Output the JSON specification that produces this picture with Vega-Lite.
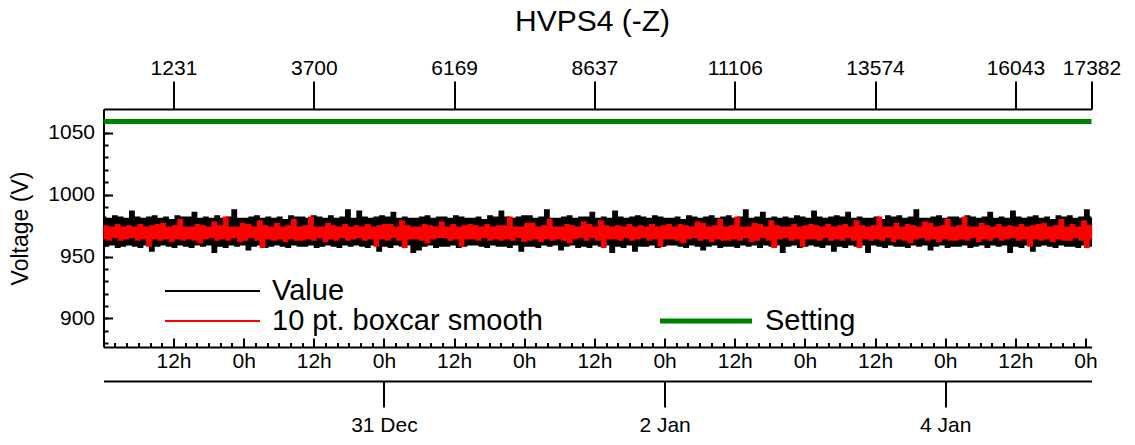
{
  "$schema": "https://vega.github.io/schema/vega-lite/v6.json",
  "width": 988,
  "height": 238,
  "autosize": {"type": "none"},
  "padding": {"left": 103.5, "top": 109, "right": 43.5, "bottom": 98},
  "config": {
    "font": "Liberation Sans",
    "view": {"stroke": null},
    "axis": {"grid": false, "domainColor": "#000000", "domainWidth": 2, "tickColor": "#000000", "tickWidth": 2, "labelColor": "#000000", "labelFontSize": 21, "labelFontWeight": "normal", "titleColor": "#000000", "titleFontSize": 23, "titleFontWeight": "normal", "labelFlush": false, "labelOverlap": false, "zindex": 1},
    "legend": {"labelColor": "#000000", "labelFontSize": 29, "labelLimit": 500, "padding": 0, "rowPadding": 0, "clipHeight": 30, "symbolType": "stroke"},
    "title": {"fontWeight": "normal", "color": "#000000"}
  },
  "title": {"text": "HVPS4 (-Z)", "fontSize": 30, "anchor": "middle", "frame": "group", "offset": 20, "dx": -5},
  "datasets": {
    "hk": [
{"i":0,"v":981,"s":965},{"i":50,"v":959,"s":974},{"i":100,"v":980,"s":964},{"i":150,"v":960,"s":973},{"i":200,"v":982,"s":966},{"i":250,"v":958,"s":975},{"i":300,"v":981,"s":964},{"i":350,"v":959,"s":973},{"i":400,"v":980,"s":965},{"i":450,"v":960,"s":974},
{"i":500,"v":986,"s":966},{"i":550,"v":959,"s":973},{"i":600,"v":981,"s":964},{"i":650,"v":958,"s":975},{"i":700,"v":980,"s":965},{"i":750,"v":960,"s":973},{"i":800,"v":981,"s":959},{"i":850,"v":955,"s":974},{"i":900,"v":982,"s":965},{"i":950,"v":959,"s":975},
{"i":1000,"v":980,"s":964},{"i":1050,"v":960,"s":976},{"i":1100,"v":981,"s":965},{"i":1150,"v":959,"s":973},{"i":1200,"v":979,"s":963},{"i":1250,"v":958,"s":974},{"i":1300,"v":982,"s":965},{"i":1350,"v":960,"s":979},{"i":1400,"v":981,"s":964},{"i":1450,"v":959,"s":973},
{"i":1500,"v":981,"s":965},{"i":1550,"v":958,"s":973},{"i":1600,"v":985,"s":964},{"i":1650,"v":960,"s":975},{"i":1700,"v":980,"s":962},{"i":1750,"v":959,"s":974},{"i":1800,"v":981,"s":965},{"i":1850,"v":960,"s":973},{"i":1900,"v":980,"s":966},{"i":1950,"v":954,"s":977},
{"i":2000,"v":982,"s":964},{"i":2050,"v":959,"s":974},{"i":2100,"v":980,"s":965},{"i":2150,"v":958,"s":981},{"i":2200,"v":981,"s":964},{"i":2250,"v":960,"s":973},{"i":2300,"v":987,"s":966},{"i":2350,"v":959,"s":973},{"i":2400,"v":980,"s":963},{"i":2450,"v":960,"s":976},
{"i":2500,"v":980,"s":964},{"i":2550,"v":956,"s":975},{"i":2600,"v":981,"s":966},{"i":2650,"v":959,"s":973},{"i":2700,"v":982,"s":964},{"i":2750,"v":960,"s":978},{"i":2800,"v":980,"s":958},{"i":2850,"v":958,"s":974},{"i":2900,"v":981,"s":965},{"i":2950,"v":959,"s":973},
{"i":3000,"v":980,"s":964},{"i":3050,"v":960,"s":976},{"i":3100,"v":981,"s":965},{"i":3150,"v":959,"s":973},{"i":3200,"v":979,"s":963},{"i":3250,"v":958,"s":974},{"i":3300,"v":982,"s":965},{"i":3350,"v":960,"s":979},{"i":3400,"v":981,"s":964},{"i":3450,"v":959,"s":973},
{"i":3500,"v":981,"s":964},{"i":3550,"v":959,"s":974},{"i":3600,"v":980,"s":965},{"i":3650,"v":960,"s":981},{"i":3700,"v":982,"s":964},{"i":3750,"v":958,"s":973},{"i":3800,"v":981,"s":966},{"i":3850,"v":959,"s":973},{"i":3900,"v":980,"s":963},{"i":3950,"v":960,"s":976},
{"i":4000,"v":982,"s":965},{"i":4050,"v":959,"s":974},{"i":4100,"v":980,"s":964},{"i":4150,"v":958,"s":973},{"i":4200,"v":981,"s":966},{"i":4250,"v":960,"s":975},{"i":4300,"v":987,"s":964},{"i":4350,"v":959,"s":973},{"i":4400,"v":980,"s":965},{"i":4450,"v":960,"s":974},
{"i":4500,"v":986,"s":966},{"i":4550,"v":959,"s":973},{"i":4600,"v":981,"s":964},{"i":4650,"v":958,"s":975},{"i":4700,"v":980,"s":965},{"i":4750,"v":960,"s":973},{"i":4800,"v":981,"s":959},{"i":4850,"v":955,"s":974},{"i":4900,"v":982,"s":965},{"i":4950,"v":959,"s":975},
{"i":5000,"v":981,"s":964},{"i":5050,"v":958,"s":975},{"i":5100,"v":985,"s":966},{"i":5150,"v":960,"s":973},{"i":5200,"v":980,"s":964},{"i":5250,"v":959,"s":978},{"i":5300,"v":981,"s":958},{"i":5350,"v":960,"s":974},{"i":5400,"v":980,"s":965},{"i":5450,"v":954,"s":973},
{"i":5500,"v":980,"s":965},{"i":5550,"v":956,"s":973},{"i":5600,"v":981,"s":964},{"i":5650,"v":959,"s":975},{"i":5700,"v":982,"s":962},{"i":5750,"v":960,"s":974},{"i":5800,"v":980,"s":965},{"i":5850,"v":958,"s":973},{"i":5900,"v":981,"s":966},{"i":5950,"v":959,"s":977},
{"i":6000,"v":981,"s":966},{"i":6050,"v":959,"s":973},{"i":6100,"v":980,"s":964},{"i":6150,"v":960,"s":975},{"i":6200,"v":982,"s":965},{"i":6250,"v":958,"s":973},{"i":6300,"v":981,"s":959},{"i":6350,"v":959,"s":974},{"i":6400,"v":980,"s":965},{"i":6450,"v":960,"s":975},
{"i":6500,"v":980,"s":965},{"i":6550,"v":960,"s":974},{"i":6600,"v":981,"s":964},{"i":6650,"v":959,"s":973},{"i":6700,"v":979,"s":966},{"i":6750,"v":958,"s":975},{"i":6800,"v":982,"s":964},{"i":6850,"v":960,"s":973},{"i":6900,"v":981,"s":965},{"i":6950,"v":959,"s":974},
{"i":7000,"v":986,"s":964},{"i":7050,"v":959,"s":974},{"i":7100,"v":981,"s":965},{"i":7150,"v":958,"s":981},{"i":7200,"v":980,"s":964},{"i":7250,"v":960,"s":973},{"i":7300,"v":981,"s":966},{"i":7350,"v":955,"s":973},{"i":7400,"v":982,"s":963},{"i":7450,"v":959,"s":976},
{"i":7500,"v":982,"s":964},{"i":7550,"v":959,"s":976},{"i":7600,"v":980,"s":965},{"i":7650,"v":958,"s":973},{"i":7700,"v":981,"s":963},{"i":7750,"v":960,"s":974},{"i":7800,"v":987,"s":965},{"i":7850,"v":959,"s":979},{"i":7900,"v":980,"s":964},{"i":7950,"v":960,"s":973},
{"i":8000,"v":980,"s":965},{"i":8050,"v":956,"s":973},{"i":8100,"v":981,"s":964},{"i":8150,"v":959,"s":975},{"i":8200,"v":982,"s":962},{"i":8250,"v":960,"s":974},{"i":8300,"v":980,"s":965},{"i":8350,"v":958,"s":973},{"i":8400,"v":981,"s":966},{"i":8450,"v":959,"s":977},
{"i":8500,"v":981,"s":964},{"i":8550,"v":958,"s":975},{"i":8600,"v":985,"s":966},{"i":8650,"v":960,"s":973},{"i":8700,"v":980,"s":964},{"i":8750,"v":959,"s":978},{"i":8800,"v":981,"s":958},{"i":8850,"v":960,"s":974},{"i":8900,"v":980,"s":965},{"i":8950,"v":954,"s":973},
{"i":9000,"v":986,"s":965},{"i":9050,"v":959,"s":974},{"i":9100,"v":981,"s":964},{"i":9150,"v":958,"s":973},{"i":9200,"v":980,"s":966},{"i":9250,"v":960,"s":975},{"i":9300,"v":981,"s":964},{"i":9350,"v":955,"s":973},{"i":9400,"v":982,"s":965},{"i":9450,"v":959,"s":974},
{"i":9500,"v":981,"s":966},{"i":9550,"v":959,"s":973},{"i":9600,"v":980,"s":964},{"i":9650,"v":960,"s":975},{"i":9700,"v":982,"s":965},{"i":9750,"v":958,"s":973},{"i":9800,"v":981,"s":959},{"i":9850,"v":959,"s":974},{"i":9900,"v":980,"s":965},{"i":9950,"v":960,"s":975},
{"i":10000,"v":980,"s":965},{"i":10050,"v":960,"s":973},{"i":10100,"v":981,"s":964},{"i":10150,"v":959,"s":975},{"i":10200,"v":979,"s":962},{"i":10250,"v":958,"s":974},{"i":10300,"v":982,"s":965},{"i":10350,"v":960,"s":973},{"i":10400,"v":981,"s":966},{"i":10450,"v":959,"s":977},
{"i":10500,"v":980,"s":964},{"i":10550,"v":956,"s":976},{"i":10600,"v":981,"s":965},{"i":10650,"v":959,"s":973},{"i":10700,"v":982,"s":963},{"i":10750,"v":960,"s":974},{"i":10800,"v":980,"s":965},{"i":10850,"v":958,"s":979},{"i":10900,"v":981,"s":964},{"i":10950,"v":959,"s":973},
{"i":11000,"v":982,"s":964},{"i":11050,"v":959,"s":974},{"i":11100,"v":980,"s":965},{"i":11150,"v":958,"s":981},{"i":11200,"v":981,"s":964},{"i":11250,"v":960,"s":973},{"i":11300,"v":987,"s":966},{"i":11350,"v":959,"s":973},{"i":11400,"v":980,"s":963},{"i":11450,"v":960,"s":976},
{"i":11500,"v":981,"s":964},{"i":11550,"v":958,"s":975},{"i":11600,"v":985,"s":966},{"i":11650,"v":960,"s":973},{"i":11700,"v":980,"s":964},{"i":11750,"v":959,"s":978},{"i":11800,"v":981,"s":958},{"i":11850,"v":960,"s":974},{"i":11900,"v":980,"s":965},{"i":11950,"v":954,"s":973},
{"i":12000,"v":981,"s":966},{"i":12050,"v":959,"s":973},{"i":12100,"v":980,"s":964},{"i":12150,"v":960,"s":975},{"i":12200,"v":982,"s":965},{"i":12250,"v":958,"s":973},{"i":12300,"v":981,"s":959},{"i":12350,"v":959,"s":974},{"i":12400,"v":980,"s":965},{"i":12450,"v":960,"s":975},
{"i":12500,"v":986,"s":965},{"i":12550,"v":959,"s":974},{"i":12600,"v":981,"s":964},{"i":12650,"v":958,"s":973},{"i":12700,"v":980,"s":966},{"i":12750,"v":960,"s":975},{"i":12800,"v":981,"s":964},{"i":12850,"v":955,"s":973},{"i":12900,"v":982,"s":965},{"i":12950,"v":959,"s":974},
{"i":13000,"v":981,"s":964},{"i":13050,"v":958,"s":975},{"i":13100,"v":985,"s":966},{"i":13150,"v":960,"s":973},{"i":13200,"v":980,"s":964},{"i":13250,"v":959,"s":978},{"i":13300,"v":981,"s":958},{"i":13350,"v":960,"s":974},{"i":13400,"v":980,"s":965},{"i":13450,"v":954,"s":973},
{"i":13500,"v":980,"s":964},{"i":13550,"v":960,"s":974},{"i":13600,"v":981,"s":965},{"i":13650,"v":959,"s":981},{"i":13700,"v":979,"s":964},{"i":13750,"v":958,"s":973},{"i":13800,"v":982,"s":966},{"i":13850,"v":960,"s":973},{"i":13900,"v":981,"s":963},{"i":13950,"v":959,"s":976},
{"i":14000,"v":982,"s":965},{"i":14050,"v":959,"s":973},{"i":14100,"v":980,"s":964},{"i":14150,"v":958,"s":975},{"i":14200,"v":981,"s":962},{"i":14250,"v":960,"s":974},{"i":14300,"v":987,"s":965},{"i":14350,"v":959,"s":973},{"i":14400,"v":980,"s":966},{"i":14450,"v":960,"s":977},
{"i":14500,"v":980,"s":964},{"i":14550,"v":956,"s":976},{"i":14600,"v":981,"s":965},{"i":14650,"v":959,"s":973},{"i":14700,"v":982,"s":963},{"i":14750,"v":960,"s":974},{"i":14800,"v":980,"s":965},{"i":14850,"v":958,"s":979},{"i":14900,"v":981,"s":964},{"i":14950,"v":959,"s":973},
{"i":15000,"v":981,"s":964},{"i":15050,"v":959,"s":974},{"i":15100,"v":980,"s":965},{"i":15150,"v":960,"s":981},{"i":15200,"v":982,"s":964},{"i":15250,"v":958,"s":973},{"i":15300,"v":981,"s":966},{"i":15350,"v":959,"s":973},{"i":15400,"v":980,"s":963},{"i":15450,"v":960,"s":976},
{"i":15500,"v":981,"s":965},{"i":15550,"v":958,"s":974},{"i":15600,"v":985,"s":964},{"i":15650,"v":960,"s":973},{"i":15700,"v":980,"s":966},{"i":15750,"v":959,"s":975},{"i":15800,"v":981,"s":964},{"i":15850,"v":960,"s":973},{"i":15900,"v":980,"s":965},{"i":15950,"v":954,"s":974},
{"i":16000,"v":986,"s":966},{"i":16050,"v":959,"s":973},{"i":16100,"v":981,"s":964},{"i":16150,"v":958,"s":975},{"i":16200,"v":980,"s":965},{"i":16250,"v":960,"s":973},{"i":16300,"v":981,"s":959},{"i":16350,"v":955,"s":974},{"i":16400,"v":982,"s":965},{"i":16450,"v":959,"s":975},
{"i":16500,"v":980,"s":964},{"i":16550,"v":960,"s":976},{"i":16600,"v":981,"s":965},{"i":16650,"v":959,"s":973},{"i":16700,"v":979,"s":963},{"i":16750,"v":958,"s":974},{"i":16800,"v":982,"s":965},{"i":16850,"v":960,"s":979},{"i":16900,"v":981,"s":964},{"i":16950,"v":959,"s":973},
{"i":17000,"v":982,"s":964},{"i":17050,"v":959,"s":975},{"i":17100,"v":980,"s":966},{"i":17150,"v":958,"s":973},{"i":17200,"v":981,"s":964},{"i":17250,"v":960,"s":978},{"i":17300,"v":987,"s":958},{"i":17350,"v":959,"s":974},{"i":17382,"v":981,"s":965}
    ],
    "setting": [{"series": "Setting", "v": 1059}],
    "span": [{"t": 1388275320000}, {"t": 1388883685000}]
  },
  "layer": [
    {
      "data": {"name": "hk"},
      "layer": [
        {
          "mark": {"type": "line", "interpolate": "step", "strokeWidth": 3},
          "encoding": {
            "x": {"field": "i", "type": "quantitative", "scale": {"domain": [0, 17382], "nice": false, "zero": false}, "axis": null},
            "y": {"field": "v", "type": "quantitative", "scale": {"domain": [877, 1069], "nice": false, "zero": false}, "axis": null},
            "color": {"datum": "Value", "type": "nominal", "scale": {"domain": ["Value", "10 pt. boxcar smooth"], "range": ["#000000", "#ff0000"]},
                      "legend": {"orient": "none", "legendX": 60.5, "legendY": 167, "title": null, "direction": "vertical", "symbolSize": 9025, "symbolStrokeWidth": 2, "labelOffset": 11}}
          }
        },
        {
          "mark": {"type": "line", "interpolate": "step", "strokeWidth": 3},
          "encoding": {
            "x": {"field": "i", "type": "quantitative", "scale": {"domain": [0, 17382], "nice": false, "zero": false}, "axis": null},
            "y": {"field": "s", "type": "quantitative", "scale": {"domain": [877, 1069], "nice": false, "zero": false}, "axis": null},
            "color": {"datum": "10 pt. boxcar smooth", "type": "nominal", "scale": {"domain": ["Value", "10 pt. boxcar smooth"], "range": ["#000000", "#ff0000"]}}
          }
        }
      ]
    },
    {
      "data": {"name": "setting"},
      "mark": {"type": "rule", "strokeWidth": 5},
      "encoding": {
        "y": {"field": "v", "type": "quantitative", "scale": {"domain": [877, 1069], "nice": false, "zero": false},
              "axis": {"orient": "left", "values": [880, 890, 900, 910, 920, 930, 940, 950, 960, 970, 980, 990, 1000, 1010, 1020, 1030, 1040, 1050, 1060], "tickSize": -4.5, "labels": false, "domain": false, "title": null}},
        "color": {"field": "series", "type": "nominal", "scale": {"domain": ["Setting"], "range": ["#008000"]},
                  "legend": {"orient": "none", "legendX": 554, "legendY": 197, "title": null, "symbolSize": 8464, "symbolStrokeWidth": 5, "labelOffset": 10.5}}
      }
    },
    {
      "data": {"name": "setting"},
      "mark": {"type": "point", "opacity": 0},
      "encoding": {
        "y": {"field": "v", "type": "quantitative", "scale": {"domain": [877, 1069], "nice": false, "zero": false},
              "axis": {"orient": "left", "values": [900, 950, 1000, 1050], "format": "d", "tickSize": -9, "labelPadding": 18, "title": "Voltage (V)", "titleX": -83.5, "titleY": 119, "titleAngle": -90, "titleAlign": "center", "titleBaseline": "middle"}}
      }
    },
    {
      "data": {"name": "hk"},
      "mark": {"type": "point", "opacity": 0},
      "encoding": {
        "x": {"field": "i", "type": "quantitative", "scale": {"domain": [0, 17382], "nice": false, "zero": false},
              "axis": {"orient": "top", "values": [1231, 3700, 6169, 8637, 11106, 13574, 16043, 17382], "format": "d", "tickSize": 28, "labelPadding": 3, "title": null}}
      }
    },
    {
      "data": {"name": "span"},
      "mark": {"type": "point", "opacity": 0},
      "encoding": {
        "x": {"field": "t", "type": "temporal",
              "scale": {"type": "utc", "domain": [1388275320000, 1388883685000]},
              "axis": {"orient": "bottom", "values": [1388318400000, 1388361600000, 1388404800000, 1388448000000, 1388491200000, 1388534400000, 1388577600000, 1388620800000, 1388664000000, 1388707200000, 1388750400000, 1388793600000, 1388836800000, 1388880000000], "tickSize": -9, "labelPadding": 12.5, "labelExpr": "utchours(datum.value) == 12 ? '12h' : '0h'", "title": null}}
      }
    },
    {
      "data": {"name": "span"},
      "mark": {"type": "point", "opacity": 0},
      "encoding": {
        "x": {"field": "t", "type": "temporal",
              "scale": {"type": "utc", "domain": [1388275320000, 1388883685000]},
              "axis": {"orient": "bottom", "values": [1388282400000, 1388289600000, 1388296800000, 1388304000000, 1388311200000, 1388318400000, 1388325600000, 1388332800000, 1388340000000, 1388347200000, 1388354400000, 1388361600000, 1388368800000, 1388376000000, 1388383200000, 1388390400000, 1388397600000, 1388404800000, 1388412000000, 1388419200000, 1388426400000, 1388433600000, 1388440800000, 1388448000000, 1388455200000, 1388462400000, 1388469600000, 1388476800000, 1388484000000, 1388491200000, 1388498400000, 1388505600000, 1388512800000, 1388520000000, 1388527200000, 1388534400000, 1388541600000, 1388548800000, 1388556000000, 1388563200000, 1388570400000, 1388577600000, 1388584800000, 1388592000000, 1388599200000, 1388606400000, 1388613600000, 1388620800000, 1388628000000, 1388635200000, 1388642400000, 1388649600000, 1388656800000, 1388664000000, 1388671200000, 1388678400000, 1388685600000, 1388692800000, 1388700000000, 1388707200000, 1388714400000, 1388721600000, 1388728800000, 1388736000000, 1388743200000, 1388750400000, 1388757600000, 1388764800000, 1388772000000, 1388779200000, 1388786400000, 1388793600000, 1388800800000, 1388808000000, 1388815200000, 1388822400000, 1388829600000, 1388836800000, 1388844000000, 1388851200000, 1388858400000, 1388865600000, 1388872800000, 1388880000000], "tickSize": -4.5, "labels": false, "domain": false, "title": null}}
      }
    },
    {
      "data": {"name": "span"},
      "mark": {"type": "point", "opacity": 0},
      "encoding": {
        "x": {"field": "t", "type": "temporal",
              "scale": {"type": "utc", "domain": [1388275320000, 1388883685000]},
              "axis": {"orient": "bottom", "offset": 34, "values": [1388448000000, 1388620800000, 1388793600000], "tickSize": 26, "labelPadding": 7.5, "labelExpr": "utcFormat(datum.value, '%-d %b')", "title": null}}
      }
    }
  ],
  "resolve": {"scale": {"x": "independent", "color": "independent"}, "axis": {"x": "independent", "y": "independent"}}
}
